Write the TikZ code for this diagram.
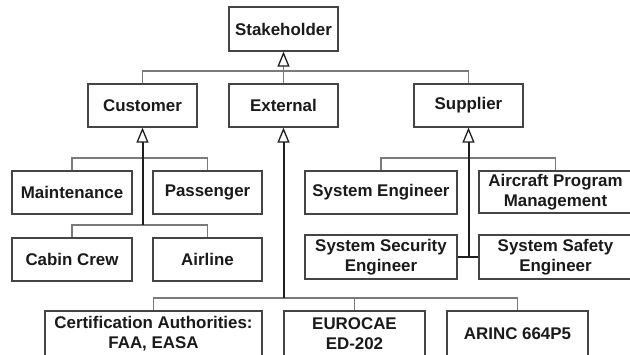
\documentclass[tikz,border=0pt]{standalone}
\usepackage{fontspec}
\setmainfont{Liberation Sans}
\usetikzlibrary{arrows.meta}
\definecolor{boxline}{HTML}{444444}
\definecolor{thinline}{HTML}{7A7A7A}
\definecolor{darkline}{HTML}{1E1E1E}
\definecolor{txt}{HTML}{1A1A1A}
\begin{document}
\begin{tikzpicture}[x=1pt,y=-1pt,
  box/.style={draw=boxline, line width=1.2pt, fill=white, inner sep=0pt,
    align=center, text=txt, font=\fontsize{16.9}{20}\selectfont\bfseries},
  conn/.style={draw=thinline, line width=1.4pt},
  mainconn/.style={draw=darkline, line width=2pt},
  gen/.style={-{Triangle[length=15pt,width=12pt,fill=white,color=darkline,line width=1.3pt]}}
]
\useasboundingbox (0,0) rectangle (630,354);
\clip (0,0) rectangle (630,354);
\fill[white] (0,0) rectangle (630,354);

% boxes: center, width, height
\node[box, minimum width=109pt, minimum height=44pt] (stake) at (283.5,29) {Stakeholder};
\node[box, minimum width=109pt, minimum height=43pt] (cust) at (142.5,105.5) {Customer};
\node[box, minimum width=109pt, minimum height=43pt] (ext) at (283.5,105.5) {External};
\node[box, minimum width=109pt, minimum height=43pt] (supp) at (468.5,105.5) {Supplier};

\node[box, minimum width=120pt, minimum height=43pt] (maint) at (72,192.5) {Maintenance};
\node[box, minimum width=109pt, minimum height=43pt] (pass) at (207.5,192.5) {Passenger};
\node[box, minimum width=120pt, minimum height=43pt] (cabin) at (72,259.5) {Cabin Crew};
\node[box, minimum width=109pt, minimum height=43pt] (airline) at (207.5,259.5) {Airline};

\node[box, minimum width=152pt, minimum height=43pt] (syseng) at (381,192.5) {System Engineer};
\node[box, minimum width=153pt, minimum height=42pt] (apm) at (555.5,192) {Aircraft Program\\Management};
\node[box, minimum width=152pt, minimum height=44pt] (sysec) at (381,257) {System Security\\Engineer};
\node[box, minimum width=153pt, minimum height=44pt] (sysaf) at (555.5,257) {System Safety\\Engineer};

\node[box, minimum width=217pt, minimum height=46pt] (cert) at (153.5,334) {Certification Authorities:\\FAA, EASA};
\node[box, minimum width=141pt, minimum height=46pt] (euro) at (354.5,334) {EUROCAE\\ED-202};
\node[box, minimum width=141pt, minimum height=46pt] (arinc) at (517.5,334) {ARINC 664P5};

% Stakeholder generalisation
\draw[conn] (cust.north) -- (cust.north |- 0,71) -| (supp.north);
\draw[conn, gen] (ext.north) -- (stake.south);

% Customer
\coordinate (cend) at (cust.south |- 0,225);
\draw[conn] (maint.north) -- (maint.north |- 0,158) -| (pass.north);
\draw[conn] (cabin.north) -- (cabin.north |- 0,225) -| (airline.north);
\draw[mainconn, gen] (cend) -- (cust.south);

% Supplier
\coordinate (send) at (supp.south |- 0,257);
\draw[conn] (syseng.north) -- (syseng.north |- 0,158) -| (apm.north);
\draw[mainconn] (sysec.east) -- (sysaf.west);
\draw[mainconn, gen] (send) -- (supp.south);

% External
\coordinate (eend) at (ext.south |- 0,298);
\draw[conn] (cert.north) -- (cert.north |- 0,298) -| (arinc.north);
\draw[conn] (euro.north) -- (euro.north |- 0,298);
\draw[mainconn, gen] (eend) -- (ext.south);
\end{tikzpicture}
\end{document}
